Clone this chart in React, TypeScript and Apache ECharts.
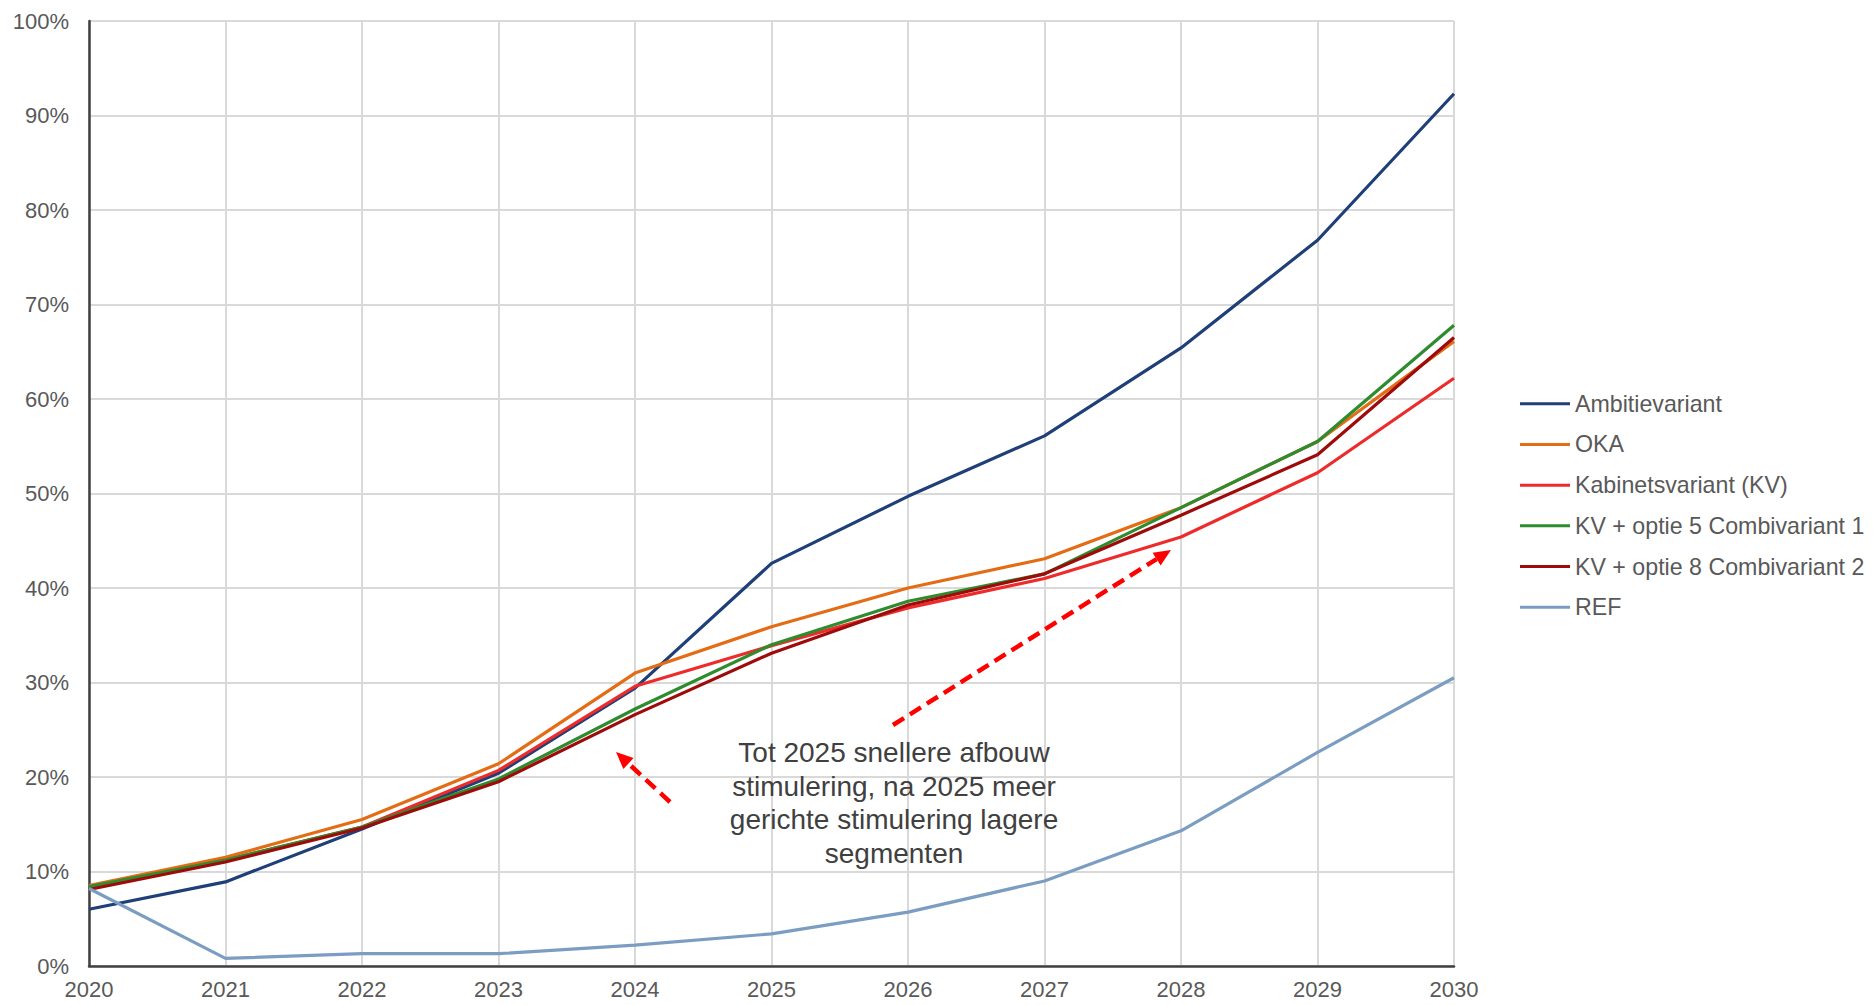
import React, { useEffect, useRef } from "react";
import * as echarts from "echarts";

const years = [2020, 2021, 2022, 2023, 2024, 2025, 2026, 2027, 2028, 2029, 2030];
const yTicks = [0, 10, 20, 30, 40, 50, 60, 70, 80, 90, 100];

const seriesNames = [
  "Ambitievariant",
  "OKA",
  "Kabinetsvariant (KV)",
  "KV + optie 5 Combivariant 1",
  "KV + optie 8 Combivariant 2",
  "REF",
];
const seriesColors = ["#1F3F78", "#E46C14", "#EE2B2B", "#2E8B2E", "#9E0B0B", "#7B9DC2"];

const ambitie = [6.0, 8.9, 14.5, 20.4, 29.4, 42.6, 49.7, 56.1, 65.4, 76.8, 92.3];
const oka = [8.5, 11.5, 15.5, 21.4, 31.0, 35.9, 40.0, 43.1, 48.5, 55.5, 66.1];
const kabinet = [8.2, 11.2, 14.7, 20.7, 29.6, 33.9, 37.9, 41.0, 45.4, 52.2, 62.2];
const optie5 = [8.4, 11.2, 14.7, 19.8, 27.2, 34.0, 38.6, 41.5, 48.5, 55.5, 67.8];
const optie8 = [8.1, 11.0, 14.6, 19.5, 26.6, 33.1, 38.2, 41.5, 47.7, 54.1, 66.5];
const ref = [8.2, 0.8, 1.3, 1.3, 2.2, 3.4, 5.7, 9.0, 14.3, 22.6, 30.5];

const annotationLines = [
  "Tot 2025 snellere afbouw",
  "stimulering, na 2025 meer",
  "gerichte stimulering lagere",
  "segmenten",
];

const FONT = "'Liberation Sans', Arial, sans-serif";

function arrow(tail: [number, number], tip: [number, number]) {
  const dx = tip[0] - tail[0];
  const dy = tip[1] - tail[1];
  const len = Math.sqrt(dx * dx + dy * dy);
  const ux = dx / len;
  const uy = dy / len;
  const hl = 17;
  const hw = 7.5;
  const bx = tip[0] - hl * ux;
  const by = tip[1] - hl * uy;
  const nx = -uy * hw;
  const ny = ux * hw;
  return [
    {
      type: "line",
      shape: { x1: tail[0], y1: tail[1], x2: bx, y2: by },
      style: { stroke: "#FF0000", lineWidth: 4.5, lineDash: [13, 7] },
      z: 100,
    },
    {
      type: "polygon",
      shape: {
        points: [
          [tip[0], tip[1]],
          [bx + nx, by + ny],
          [bx - nx, by - ny],
        ],
      },
      style: { fill: "#FF0000" },
      z: 100,
    },
  ];
}

export default function App() {
  const ref1 = useRef<HTMLDivElement>(null);

  useEffect(() => {
    if (!ref1.current) return;
    const chart = echarts.init(ref1.current, undefined, { renderer: "svg" });
    const allData = [ambitie, oka, kabinet, optie5, optie8, ref];

    const option: any = {
      animation: false,
      backgroundColor: "#FFFFFF",
      textStyle: { fontFamily: FONT },
      grid: { left: 89, right: 421, top: 21, bottom: 39, containLabel: false },
      xAxis: {
        type: "value",
        min: years[0],
        max: years[years.length - 1],
        interval: 1,
        axisLine: { show: true, onZero: false, lineStyle: { color: "#404040", width: 2.5 } },
        axisTick: { show: false },
        splitLine: { show: true, lineStyle: { color: "#D9D9D9", width: 2 } },
        axisLabel: {
          color: "#595959",
          fontSize: 22,
          fontFamily: FONT,
          margin: 12,
          formatter: (v: number) => String(v),
        },
      },
      yAxis: {
        type: "value",
        min: yTicks[0],
        max: yTicks[yTicks.length - 1],
        interval: 10,
        axisLine: { show: true, lineStyle: { color: "#404040", width: 2.5 } },
        axisTick: { show: false },
        splitLine: { show: true, lineStyle: { color: "#D9D9D9", width: 2 } },
        axisLabel: {
          color: "#595959",
          fontSize: 22,
          fontFamily: FONT,
          margin: 20,
          formatter: "{value}%",
        },
      },
      legend: {
        orient: "vertical",
        left: 1515,
        top: 387,
        itemWidth: 50,
        itemHeight: 3,
        itemGap: 17.2,
        icon: "rect",
        textStyle: { color: "#595959", fontSize: 23.2, fontFamily: FONT, lineHeight: 23.5, padding: [0, 0, 0, 0] },
        data: seriesNames,
      },
      series: seriesNames.map((name, i) => ({
        name,
        type: "line",
        data: years.map((y, j) => [y, allData[i][j]]),
        showSymbol: false,
        symbol: "none",
        lineStyle: { color: seriesColors[i], width: 3.2 },
        itemStyle: { color: seriesColors[i] },
        z: 2 + i,
      })),
      graphic: [
        {
          type: "text",
          x: 894,
          y: 736,
          z: 100,
          style: {
            text: annotationLines.join("\n"),
            fill: "#404040",
            fontSize: 28,
            fontFamily: FONT,
            lineHeight: 33.5,
            align: "center",
            verticalAlign: "top",
          },
        },
        ...arrow([670, 802], [616, 752]),
        ...arrow([893, 725], [1171, 550]),
      ],
    };
    chart.setOption(option);
    return () => chart.dispose();
  }, []);

  return (
    <div
      ref={ref1}
      style={{ position: "fixed", left: 0, top: 0, width: 1875, height: 1005, background: "#fff" }}
    />
  );
}
